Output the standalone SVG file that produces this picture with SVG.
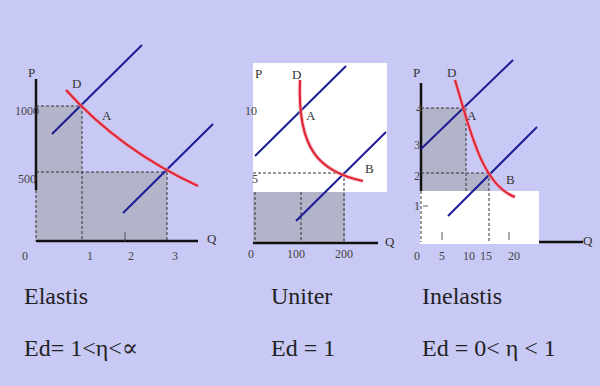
<svg xmlns="http://www.w3.org/2000/svg" width="600" height="386" viewBox="0 0 600 386">
<style>
.bg{fill:#c9c9f5}
.shade{fill:#b3b3c9}
.white{fill:#ffffff}
.axis{stroke:#111;stroke-width:2.5;fill:none}
.dash{stroke:#333;stroke-width:1;stroke-dasharray:3 2;fill:none}
.supply{stroke:#1c1c96;stroke-width:2;fill:none}
.demand{stroke:#e02838;stroke-width:2.2;fill:none}
.halo{stroke:#f0a0b0;stroke-width:4;fill:none;opacity:0.6}
text{font-family:"Liberation Serif","DejaVu Serif","Times New Roman",serif}
.lbl{font-size:12px;fill:#444}
.pt{font-size:13px;fill:#333}
.title{font-size:24px;fill:#222}
.tick{stroke:#555;stroke-width:1}
</style>
<rect class="bg" x="0" y="0" width="600" height="386"/>

<g id="panel-elastis">
<path class="shade" d="M36,106 H82 V172 H167 V241 H36 Z"/>
<line class="axis" x1="36" y1="79" x2="36" y2="190"/>
<line class="dash" x1="36" y1="190" x2="36" y2="241"/>
<line class="axis" x1="36" y1="241" x2="198" y2="241"/>
<line class="tick" x1="125" y1="232" x2="125" y2="241"/>
<line class="dash" x1="36" y1="106" x2="82" y2="106"/>
<line class="dash" x1="82" y1="106" x2="82" y2="241"/>
<line class="dash" x1="36" y1="172" x2="167" y2="172"/>
<line class="dash" x1="167" y1="172" x2="167" y2="241"/>
<line class="supply" x1="52" y1="134" x2="142" y2="45"/>
<line class="supply" x1="123" y1="213" x2="213" y2="124"/>
<path class="halo" d="M66,90 Q120,150 198,186"/>
<path class="demand" d="M66,90 Q120,150 198,186"/>
<text class="pt" x="28" y="77">P</text>
<text class="pt" x="72" y="88">D</text>
<text class="pt" x="102" y="120">A</text>
<text class="pt" x="207" y="243">Q</text>
<text class="lbl" x="15" y="115">1000</text>
<text class="lbl" x="18" y="183">500</text>
<text class="lbl" x="22" y="260">0</text>
<text class="lbl" x="87" y="260">1</text>
<text class="lbl" x="128" y="260">2</text>
<text class="lbl" x="172" y="260">3</text>
</g>

<g id="panel-uniter">
<rect class="white" x="253" y="63" width="134" height="129"/>
<rect class="shade" x="253" y="192" width="92" height="51"/>
<line class="axis" x1="253" y1="243" x2="378" y2="243"/>
<line class="dash" x1="255" y1="192" x2="255" y2="243"/>
<line class="dash" x1="301" y1="192" x2="301" y2="243"/>
<line class="dash" x1="253" y1="173" x2="344" y2="173"/>
<line class="dash" x1="344" y1="173" x2="344" y2="243"/>
<line class="supply" x1="255" y1="156" x2="346" y2="66"/>
<line class="supply" x1="296" y1="221" x2="386" y2="132"/>
<path class="halo" d="M300,80 C297,150 320,172 363,181"/>
<path class="demand" d="M300,80 C297,150 320,172 363,181"/>
<text class="pt" x="255" y="78">P</text>
<text class="pt" x="292" y="79">D</text>
<text class="pt" x="306" y="120">A</text>
<text class="pt" x="365" y="173">B</text>
<text class="pt" x="385" y="246">Q</text>
<text class="lbl" x="245" y="115">10</text>
<text class="lbl" x="252" y="183">5</text>
<text class="lbl" x="248" y="258">0</text>
<text class="lbl" x="287" y="258">100</text>
<text class="lbl" x="335" y="258">200</text>
</g>

<g id="panel-inelastis">
<path class="shade" d="M421,108 H466 V173 H489 V191 H421 Z"/>
<line class="axis" x1="421" y1="83" x2="421" y2="191"/>
<rect class="white" x="420" y="191" width="119" height="53"/>
<line class="axis" x1="539" y1="242" x2="583" y2="242"/>
<line class="dash" x1="421" y1="191" x2="421" y2="242"/>
<line class="dash" x1="421" y1="108" x2="466" y2="108"/>
<line class="dash" x1="466" y1="108" x2="466" y2="191"/>
<line class="dash" x1="421" y1="173" x2="489" y2="173"/>
<line class="dash" x1="489" y1="173" x2="489" y2="242"/>
<line class="tick" x1="442" y1="232" x2="442" y2="240"/>
<line class="tick" x1="509" y1="232" x2="509" y2="240"/>
<line class="tick" x1="423" y1="206" x2="428" y2="206"/>
<line class="supply" x1="421" y1="149" x2="513" y2="60"/>
<line class="supply" x1="448" y1="216" x2="537" y2="127"/>
<path class="halo" d="M455,80 C470,130 482,185 515,197"/>
<path class="demand" d="M455,80 C470,130 482,185 515,197"/>
<text class="pt" x="413" y="77">P</text>
<text class="pt" x="447" y="77">D</text>
<text class="pt" x="467" y="120">A</text>
<text class="pt" x="506" y="184">B</text>
<text class="pt" x="583" y="245">Q</text>
<text class="lbl" x="416" y="113">4</text>
<text class="lbl" x="414" y="149">3</text>
<text class="lbl" x="414" y="180">2</text>
<text class="lbl" x="414" y="210">1</text>
<text class="lbl" x="414" y="260">0</text>
<text class="lbl" x="439" y="260">5</text>
<text class="lbl" x="463" y="260">10</text>
<text class="lbl" x="480" y="260">15</text>
<text class="lbl" x="508" y="260">20</text>
</g>

<g id="captions">
<text class="title" x="24" y="304">Elastis</text>
<text class="title" x="24" y="356">Ed= 1&lt;η&lt;∝</text>
<text class="title" x="271" y="304">Uniter</text>
<text class="title" x="271" y="356">Ed = 1</text>
<text class="title" x="422" y="304">Inelastis</text>
<text class="title" x="422" y="356">Ed = 0&lt; η &lt; 1</text>
</g>
</svg>
